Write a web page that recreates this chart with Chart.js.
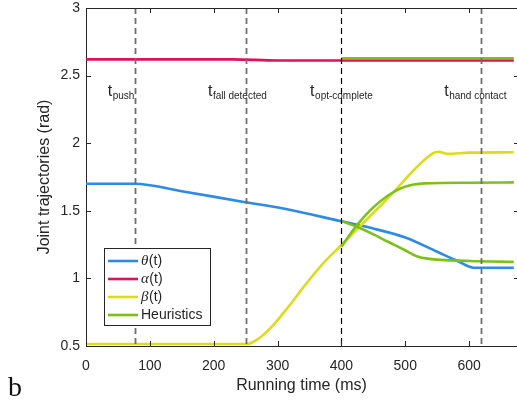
<!DOCTYPE html>
<html>
<head>
<meta charset="utf-8">
<script src="https://cdn.jsdelivr.net/npm/chart.js@4.4.0/dist/chart.umd.min.js"></script>
<style>
  html, body { margin: 0; padding: 0; background: #fff; }
  #wrap { width: 517px; height: 400px; }
</style>
</head>
<body>
<div id="wrap"><canvas id="jointChart" width="517" height="400"></canvas></div>
<script>
//! data (time in ms, angles in rad)

const thetaTime = [0, 76, 150, 245, 311, 400, 447, 499, 550, 581, 607, 670];
const thetaVal  = [1.70, 1.70, 1.645, 1.567, 1.515, 1.422, 1.372, 1.304, 1.197, 1.131, 1.079, 1.079];

const alphaTime = [0, 230, 300, 670];
const alphaVal  = [2.62, 2.62, 2.612, 2.612];

const betaTime = [0, 252, 271, 291, 317, 343, 369, 400, 470, 543, 552, 566, 600, 670];
const betaVal  = [0.515, 0.515, 0.557, 0.643, 0.79, 0.95, 1.099, 1.247, 1.58, 1.925, 1.937, 1.922, 1.93, 1.933];

// heuristic predictions, all in the same green
const hAlphaTime = [400, 670];
const hAlphaVal  = [2.628, 2.628];
const hBetaTime  = [400, 413, 426, 447, 473, 499, 530, 600, 670];
const hBetaVal   = [1.234, 1.323, 1.403, 1.512, 1.613, 1.677, 1.703, 1.708, 1.71];
const hThetaTime = [400, 426, 447, 473, 499, 519, 535, 602, 670];
const hThetaVal  = [1.424, 1.378, 1.333, 1.271, 1.21, 1.162, 1.146, 1.129, 1.122];

// event markers
const eventTime  = [76, 250, 400, 618];
const eventSub   = ["push", "fall detected", "opt-complete", "hand contact"];
const eventTextAt = [34, 191, 351, 561];   // where the label starts, ms

const xTicks = [0, 100, 200, 300, 400, 500, 600];
const yTicks = [0.5, 1, 1.5, 2, 2.5, 3];

const legendNames = ["\u03b8", "\u03b1", "\u03b2", "Heuristics"];

const BLUE = "#2d8ae6", RED = "#e0105a", YELLOW = "#dcdc1c", GREEN = "#7cc11a";
const INK = "#262626";
const SANS = "'Liberation Sans', Arial, sans-serif";

function pts(t, v) { return t.map((x, i) => ({ x: x, y: v[i] })); }

function line(label, t, v, color) {
  return {
    label: label,
    data: pts(t, v),
    borderColor: color,
    backgroundColor: color,
    borderWidth: 2.6,
    pointRadius: 0,
    fill: false,
    cubicInterpolationMode: 'monotone'
  };
}

//! frame, ticks, event lines, legend >>

const framePlugin = {
  id: 'frame',
  afterDatasetsDraw(chart) {
    const { ctx, chartArea: a, scales: { x, y } } = chart;
    ctx.save();
    // dashed event lines
    eventTime.forEach((t, i) => {
      const px = Math.round(x.getPixelForValue(t)) + 0.5;
      ctx.beginPath();
      ctx.setLineDash([6, 4]);
      ctx.strokeStyle = i === 2 ? "#000" : "#6e6e6e";
      ctx.lineWidth = i === 2 ? 1.2 : 1.8;
      ctx.moveTo(px, a.top);
      ctx.lineTo(px, a.bottom);
      ctx.stroke();
    });
    ctx.setLineDash([]);

    // top border + inward ticks
    ctx.strokeStyle = INK;
    ctx.lineWidth = 1;
    ctx.beginPath();
    ctx.moveTo(a.left, Math.round(a.top) + 0.5);
    ctx.lineTo(a.right, Math.round(a.top) + 0.5);
    xTicks.forEach(t => {
      const px = Math.round(x.getPixelForValue(t)) + 0.5;
      ctx.moveTo(px, a.bottom);
      ctx.lineTo(px, a.bottom - 5);
      ctx.moveTo(px, a.top);
      ctx.lineTo(px, a.top + 5);
    });
    yTicks.forEach(v => {
      const py = Math.round(y.getPixelForValue(v)) + 0.5;
      ctx.moveTo(a.left, py);
      ctx.lineTo(a.left + 5, py);
      ctx.moveTo(a.right, py);
      ctx.lineTo(a.right - 3, py);
    });
    ctx.stroke();
    ctx.restore();
  },
  afterDraw(chart) {
    const { ctx, scales: { x } } = chart;
    ctx.save();
    ctx.fillStyle = INK;
    ctx.textBaseline = 'alphabetic';

    // t_xxx labels
    eventTextAt.forEach((t, i) => {
      const px = x.getPixelForValue(t);
      ctx.font = "16px " + SANS;
      ctx.fillText("t", px, 96);
      const w = ctx.measureText("t").width;
      ctx.font = "10px " + SANS;
      ctx.fillText(eventSub[i], px + w + 0.5, 98.5);
    });

    // legend box
    const bx = 104, by = 248, bw = 106, bh = 77;
    ctx.fillStyle = "#fff";
    ctx.fillRect(bx, by, bw, bh);
    ctx.strokeStyle = INK;
    ctx.lineWidth = 1;
    ctx.strokeRect(bx + 0.5, by + 0.5, bw, bh);
    const colors = [BLUE, RED, YELLOW, GREEN];
    legendNames.forEach((name, i) => {
      const ry = 261 + i * 18;
      ctx.strokeStyle = colors[i];
      ctx.lineWidth = 2.6;
      ctx.beginPath();
      ctx.moveTo(108, ry);
      ctx.lineTo(138, ry);
      ctx.stroke();
      ctx.fillStyle = INK;
      ctx.textBaseline = 'middle';
      if (i < 3) {
        ctx.font = "italic 15px 'Liberation Serif', serif";
        ctx.fillText(name, 141, ry + 0.5);
        const w = ctx.measureText(name).width;
        ctx.font = "14px " + SANS;
        ctx.fillText("(t)", 141 + w + 0.5, ry + 0.5);
      } else {
        ctx.font = "14px " + SANS;
        ctx.fillText(name, 141, ry + 0.5);
      }
    });

    // panel letter
    ctx.fillStyle = "#111";
    ctx.textBaseline = 'alphabetic';
    ctx.font = "28px 'Liberation Serif', serif";
    ctx.fillText("b", 8, 396);
    ctx.restore();
  }
};

new Chart("jointChart", {
  type: "line",
  data: {
    datasets: [
      line("theta", thetaTime, thetaVal, BLUE),
      line("alpha", alphaTime, alphaVal, RED),
      line("beta", betaTime, betaVal, YELLOW),
      line("Heuristics", hAlphaTime, hAlphaVal, GREEN),
      line("Heuristics", hBetaTime, hBetaVal, GREEN),
      line("Heuristics", hThetaTime, hThetaVal, GREEN)
    ].reverse()   // green drawn last (on top)
  },
  options: {
    responsive: false,
    animation: false,
    layout: { padding: { top: 8, right: -3, left: 0, bottom: 0 } },
    plugins: {
      legend: { display: false },
      tooltip: { enabled: false }
    },
    scales: {
      x: {
        type: 'linear',
        min: 0,
        max: 675,
        afterFit: s => { s.height = 54; s.paddingLeft = 0; s.paddingRight = 0; },
        afterBuildTicks: s => { s.ticks = xTicks.map(v => ({ value: v })); },
        grid: { display: false, drawTicks: false },
        border: { display: true, color: INK, width: 1 },
        ticks: { color: INK, font: { size: 14, family: SANS }, padding: 12, maxRotation: 0 },
        title: {
          display: true,
          text: "Running time (ms)",
          color: INK,
          font: { size: 16, family: SANS },
          padding: { top: 0, bottom: 5 }
        }
      },
      y: {
        min: 0.5,
        max: 3,
        afterFit: s => { s.width = 86; s.paddingTop = 0; s.paddingBottom = 0; },
        afterBuildTicks: s => { s.ticks = yTicks.map(v => ({ value: v })); },
        grid: { display: false, drawTicks: false },
        border: { display: true, color: INK, width: 1 },
        ticks: {
          color: INK,
          font: { size: 14, family: SANS },
          padding: 6,
          callback: v => String(v)
        },
        title: {
          display: true,
          text: "Joint trajectories (rad)",
          color: INK,
          font: { size: 16, family: SANS },
          padding: { top: 35, bottom: 0 }
        }
      }
    }
  },
  plugins: [framePlugin]
});
</script>
</body>
</html>
